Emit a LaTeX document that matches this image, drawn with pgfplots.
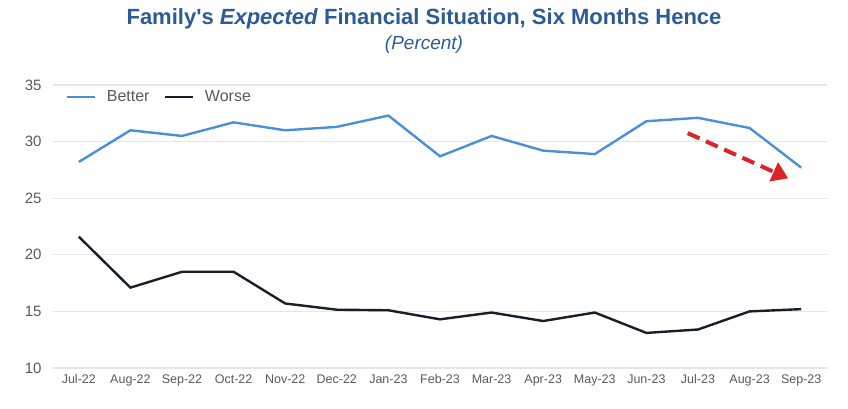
\documentclass[border=0pt]{standalone}
\usepackage{fontspec}
\setmainfont{Liberation Sans}
\usepackage{pgfplots}
\pgfplotsset{compat=1.18}
\usetikzlibrary{arrows.meta}
\definecolor{titleblue}{HTML}{2E5A95}
\definecolor{better}{HTML}{4A8FD8}
\definecolor{worse}{HTML}{16202A}
\definecolor{arrowred}{HTML}{D9252A}
\definecolor{txtgray}{HTML}{595959}
\definecolor{gridgray}{HTML}{E6E6E6}

\begin{document}
\begin{tikzpicture}[x=1pt,y=1pt]
  \path[use as bounding box] (0,0) rectangle (848,408);
  \node[font=\fontsize{22}{26}\selectfont\bfseries, text=titleblue] at (424,389)
    {Family\textquotesingle s \textit{Expected} Financial Situation, Six Months Hence};
  \node[font=\fontsize{19}{22}\selectfont\itshape, text=titleblue] at (424,363) {(Percent)};
  \begin{axis}[
    at={(53pt,40pt)}, anchor=south west,
    scale only axis, width=774pt, height=283pt,
    xmin=-0.5, xmax=14.5, ymin=10, ymax=35,
    axis line style={draw=none},
    ytick={10,15,...,35},
    xtick={0,...,14},
    xticklabels={Jul-22,Aug-22,Sep-22,Oct-22,Nov-22,Dec-22,Jan-23,Feb-23,Mar-23,Apr-23,May-23,Jun-23,Jul-23,Aug-23,Sep-23},
    major tick length=0pt,
    ymajorgrids, grid style={gridgray, line width=1.2pt},
    tick label style={text=txtgray},
    yticklabel style={font=\fontsize{15}{18}\selectfont, xshift=-8pt},
    xticklabel style={font=\fontsize{12.5}{14}\selectfont, yshift=-3pt},
    /pgf/number format/assume math mode=true,
    legend style={draw=none, fill=none, at={(0.012,0.958)}, anchor=west,
      font=\fontsize{16}{18}\selectfont, text=txtgray, legend columns=2,
      /tikz/every even column/.append style={column sep=12pt}},
    legend image code/.code={\draw[#1] (0pt,0pt) -- (28pt,0pt); \path (37pt,0pt);},
  ]
    \addplot[better, line width=2.4pt] coordinates {
      (0,28.2) (1,31.0) (2,30.5) (3,31.7) (4,31.0) (5,31.3) (6,32.3) (7,28.7)
      (8,30.5) (9,29.2) (10,28.9) (11,31.8) (12,32.1) (13,31.2) (14,27.7)};
    \addlegendentry{Better}
    \addplot[worse, line width=2.4pt] coordinates {
      (0,21.6) (1,17.1) (2,18.5) (3,18.5) (4,15.7) (5,15.15) (6,15.1) (7,14.3)
      (8,14.9) (9,14.15) (10,14.9) (11,13.1) (12,13.4) (13,15.0) (14,15.2)};
    \addlegendentry{Worse}
    \draw[arrowred, line width=4pt, dash pattern=on 13pt off 7pt,
      -{Triangle[length=16pt, width=20pt]}]
      (axis cs:11.8,30.75) -- (axis cs:13.75,26.75);
  \end{axis}
\end{tikzpicture}
\end{document}
